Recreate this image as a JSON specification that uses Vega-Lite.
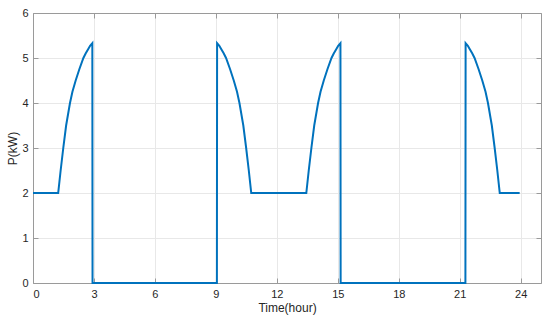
{
  "$schema": "https://vega.github.io/schema/vega-lite/v6.json",
  "width": 508,
  "height": 270,
  "autosize": {"type": "none"},
  "padding": {"left": 33, "top": 13, "right": 9, "bottom": 40},
  "background": "white",
  "config": {
    "view": {"stroke": null},
    "font": "Liberation Sans",
    "axis": {
      "domainColor": "#9a9a9a",
      "domainWidth": 1,
      "tickColor": "#9a9a9a",
      "tickSize": -5,
      "gridColor": "#e8e8e8",
      "gridWidth": 1,
      "labelColor": "#262626",
      "labelFont": "Liberation Sans",
      "labelFontSize": 11,
      "titleFont": "Liberation Sans",
      "titleFontSize": 12,
      "titleFontWeight": "normal",
      "titleColor": "#262626"
    }
  },
  "data": {
    "values": [
      {"i": 0, "t": 0, "p": 2},
      {"i": 1, "t": 1.24, "p": 2},
      {"i": 2, "t": 1.36, "p": 2.5},
      {"i": 3, "t": 1.49, "p": 3},
      {"i": 4, "t": 1.63, "p": 3.5},
      {"i": 5, "t": 1.82, "p": 4},
      {"i": 6, "t": 1.94, "p": 4.25},
      {"i": 7, "t": 2.10, "p": 4.5},
      {"i": 8, "t": 2.28, "p": 4.75},
      {"i": 9, "t": 2.48, "p": 5},
      {"i": 10, "t": 2.59, "p": 5.1},
      {"i": 11, "t": 2.72, "p": 5.2},
      {"i": 12, "t": 2.81, "p": 5.27},
      {"i": 13, "t": 2.92, "p": 5.33},
      {"i": 14, "t": 2.93, "p": 0},
      {"i": 15, "t": 9.05, "p": 0},
      {"i": 16, "t": 9.06, "p": 5.33},
      {"i": 17, "t": 9.17, "p": 5.27},
      {"i": 18, "t": 9.26, "p": 5.2},
      {"i": 19, "t": 9.39, "p": 5.1},
      {"i": 20, "t": 9.50, "p": 5},
      {"i": 21, "t": 9.70, "p": 4.75},
      {"i": 22, "t": 9.88, "p": 4.5},
      {"i": 23, "t": 10.04, "p": 4.25},
      {"i": 24, "t": 10.16, "p": 4},
      {"i": 25, "t": 10.35, "p": 3.5},
      {"i": 26, "t": 10.49, "p": 3},
      {"i": 27, "t": 10.62, "p": 2.5},
      {"i": 28, "t": 10.74, "p": 2},
      {"i": 29, "t": 13.45, "p": 2},
      {"i": 30, "t": 13.57, "p": 2.5},
      {"i": 31, "t": 13.70, "p": 3},
      {"i": 32, "t": 13.84, "p": 3.5},
      {"i": 33, "t": 14.03, "p": 4},
      {"i": 34, "t": 14.15, "p": 4.25},
      {"i": 35, "t": 14.31, "p": 4.5},
      {"i": 36, "t": 14.49, "p": 4.75},
      {"i": 37, "t": 14.69, "p": 5},
      {"i": 38, "t": 14.80, "p": 5.1},
      {"i": 39, "t": 14.93, "p": 5.2},
      {"i": 40, "t": 15.02, "p": 5.27},
      {"i": 41, "t": 15.13, "p": 5.33},
      {"i": 42, "t": 15.14, "p": 0},
      {"i": 43, "t": 21.28, "p": 0},
      {"i": 44, "t": 21.29, "p": 5.33},
      {"i": 45, "t": 21.40, "p": 5.27},
      {"i": 46, "t": 21.49, "p": 5.2},
      {"i": 47, "t": 21.62, "p": 5.1},
      {"i": 48, "t": 21.73, "p": 5},
      {"i": 49, "t": 21.93, "p": 4.75},
      {"i": 50, "t": 22.11, "p": 4.5},
      {"i": 51, "t": 22.27, "p": 4.25},
      {"i": 52, "t": 22.39, "p": 4},
      {"i": 53, "t": 22.58, "p": 3.5},
      {"i": 54, "t": 22.72, "p": 3},
      {"i": 55, "t": 22.85, "p": 2.5},
      {"i": 56, "t": 22.97, "p": 2},
      {"i": 57, "t": 23.95, "p": 2}
    ]
  },
  "resolve": {"axis": {"x": "independent", "y": "independent"}},
  "layer": [
    {
      "mark": {"type": "line", "opacity": 0},
      "encoding": {
        "x": {"field": "t", "type": "quantitative", "scale": {"domain": [0, 25], "nice": false, "zero": false},
              "axis": {"orient": "top", "values": [0, 3, 6, 9, 12, 15, 18, 21, 24], "labels": false, "grid": true, "title": null}},
        "y": {"field": "p", "type": "quantitative", "scale": {"domain": [0, 6], "nice": false},
              "axis": {"orient": "right", "values": [0, 1, 2, 3, 4, 5, 6], "labels": false, "grid": true, "title": null}},
        "order": {"field": "i"}
      }
    },
    {
      "mark": {"type": "line", "color": "#0072BD", "strokeWidth": 2, "strokeJoin": "miter"},
      "encoding": {
        "x": {"field": "t", "type": "quantitative", "scale": {"domain": [0, 25], "nice": false, "zero": false},
              "axis": {"orient": "bottom", "values": [0, 3, 6, 9, 12, 15, 18, 21, 24], "grid": false, "title": "Time(hour)", "labelPadding": 10, "titlePadding": 3}},
        "y": {"field": "p", "type": "quantitative", "scale": {"domain": [0, 6], "nice": false},
              "axis": {"orient": "left", "values": [0, 1, 2, 3, 4, 5, 6], "grid": false, "title": "P(kW)", "labelPadding": 10, "titlePadding": 2}},
        "order": {"field": "i"}
      }
    }
  ]
}
